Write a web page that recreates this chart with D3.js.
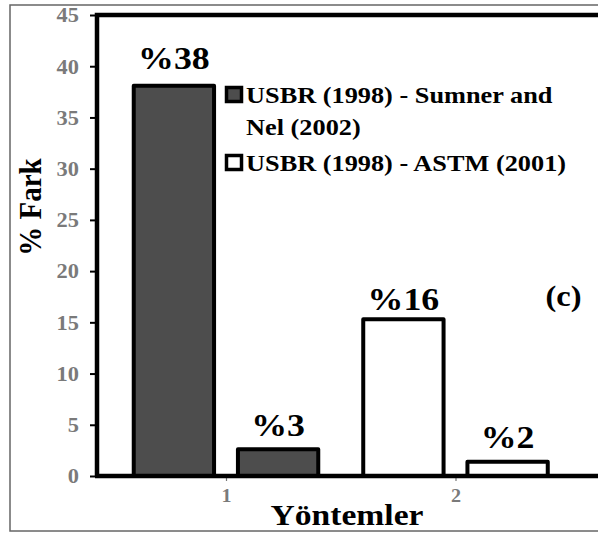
<!DOCTYPE html>
<html>
<head>
<meta charset="utf-8">
<script src="https://cdn.jsdelivr.net/npm/d3@7"></script>
<style>
  html, body { margin: 0; padding: 0; background: #fff; }
  svg { display: block; }
</style>
</head>
<body>
<svg id="chart" width="598" height="534" font-family="Liberation Serif"></svg>
<script>
// ---- data ----
const categories = [1, 2];
const seriesNames = ["USBR (1998) - Sumner and Nel (2002)", "USBR (1998) - ASTM (2001)"];
// bars in category 1 belong to series 0 (dark), in category 2 to series 1 (white)
const barCategory = [1, 1, 2, 2];
const barSlot = [-1, 1, -1, 1];          // left / right bar inside a category
const barSeries = [0, 0, 1, 1];
const barValues = [38.1, 2.6, 15.3, 1.4];
const barLabels = ["%38", "%3", "%16", "%2"];
const yTicks = [0, 5, 10, 15, 20, 25, 30, 35, 40, 45];
const xTicks = [1, 2];

// ---- layout ----
const FONT = "Liberation Serif";
const SX = 1.12; // horizontal stretch of the original picture
const svg = d3.select("#chart");
const plotLeft = 97, plotTop = 15, plotBottom = 476, plotRight = 602;

const y = d3.scaleLinear().domain([0, 45]).range([plotBottom, plotTop]);
const x = d3.scaleLinear().domain([1, 2]).range([226, 455.5]);
const slotOffset = 0.227, barW = x(1.35) - x(1);
const colors = ["#4d4d4d", "#ffffff"];

function stretched(sel, tx, ty) {
  return sel.attr("transform", `translate(${tx},${ty}) scale(${SX},1)`).attr("font-family", FONT);
}

// outer frame
svg.append("rect").attr("x", 10).attr("y", 5).attr("width", 600).attr("height", 526)
  .attr("fill", "none").attr("stroke", "#666").attr("stroke-width", 1.5);

// bars
const bars = barValues.map((v, i) => ({ v, i, cx: x(barCategory[i] + barSlot[i] * slotOffset) }));
svg.append("g").selectAll("rect").data(bars).join("rect")
  .attr("x", d => d.cx - barW / 2)
  .attr("y", d => y(d.v))
  .attr("width", barW)
  .attr("height", d => y(0) - y(d.v))
  .attr("fill", d => colors[barSeries[d.i]])
  .attr("stroke", "#000").attr("stroke-width", 4).attr("stroke-linejoin", "round");

// value labels
const labelGap = [17, 13, 9, 14];
svg.append("g").selectAll("text").data(bars).join("text")
  .each(function(d) { stretched(d3.select(this), d.cx, y(d.v) - labelGap[d.i]); })
  .attr("text-anchor", "middle")
  .attr("font-size", 32).attr("font-weight", "bold").attr("fill", "#000")
  .text(d => barLabels[d.i]);

// y axis
const yAxis = d3.axisLeft(y).tickValues(yTicks).tickSize(7).tickPadding(3).tickFormat(d3.format("d"));
const gy = svg.append("g").attr("transform", `translate(${plotLeft},0)`).call(yAxis)
  .attr("font-family", FONT);
gy.select(".domain").remove();
gy.selectAll(".tick line").attr("stroke", "#000").attr("stroke-width", 2);
gy.selectAll(".tick text")
  .attr("x", null).attr("dy", "0.34em")
  .attr("transform", `translate(-18,0) scale(${SX},1)`)
  .attr("font-size", 20).attr("font-weight", "bold").attr("fill", "#7a7a7a")
  .attr("font-family", FONT).attr("text-anchor", "end");

// x axis
const xAxis = d3.axisBottom(x).tickValues(xTicks).tickSize(5).tickPadding(8).tickFormat(d3.format("d"));
const gx = svg.append("g").attr("transform", `translate(0,${plotBottom})`).call(xAxis)
  .attr("font-family", FONT);
gx.select(".domain").remove();
gx.selectAll(".tick line").attr("stroke", "#777").attr("stroke-width", 1.2);
gx.selectAll(".tick text").attr("font-size", 18).attr("font-weight", "bold").attr("fill", "#7a7a7a")
  .attr("font-family", FONT)
  .attr("transform", `scale(${SX},1)`);

// frame lines (left axis, top, bottom axis)
svg.append("path")
  .attr("d", `M${plotLeft},${plotBottom} L${plotLeft},${plotTop} L${plotRight},${plotTop}`)
  .attr("fill", "none").attr("stroke", "#000").attr("stroke-width", 4.5);
svg.append("line").attr("x1", plotLeft - 2).attr("x2", plotRight)
  .attr("y1", plotBottom).attr("y2", plotBottom)
  .attr("stroke", "#000").attr("stroke-width", 4.5);

// axis titles
svg.append("text").attr("transform", `translate(41,207) rotate(-90) scale(1,${SX})`)
  .attr("font-family", FONT)
  .attr("text-anchor", "middle").attr("font-size", 29).attr("font-weight", "bold")
  .text("% Fark");
stretched(svg.append("text"), 347, 525)
  .attr("text-anchor", "middle").attr("font-size", 30).attr("font-weight", "bold")
  .text("Yöntemler");

// panel tag
stretched(svg.append("text"), 563.5, 306)
  .attr("text-anchor", "middle").attr("font-size", 29).attr("font-weight", "bold")
  .text("(c)");

// legend
const legendLines = [["USBR (1998) - Sumner and", "Nel (2002)"], ["USBR (1998) - ASTM (2001)"]];
const legendY = [103, 171];
const lg = svg.append("g");
legendLines.forEach((lines, i) => {
  lg.append("rect").attr("x", 226.5).attr("y", legendY[i] - 15.5).attr("width", 15).attr("height", 14)
    .attr("fill", colors[i]).attr("stroke", "#000").attr("stroke-width", 3.5);
  lines.forEach((ln, j) => {
    stretched(lg.append("text"), 246, legendY[i] + j * 32)
      .attr("font-size", 23.5).attr("font-weight", "bold").attr("fill", "#000").text(ln);
  });
});
</script>
</body>
</html>
